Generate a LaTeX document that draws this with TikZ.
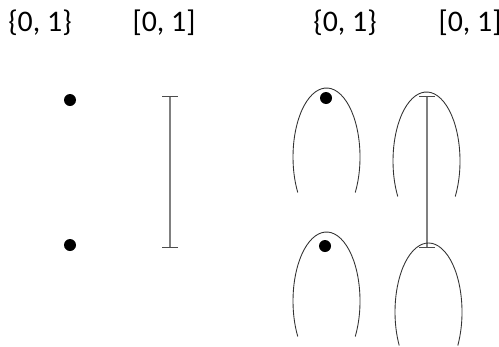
\documentclass[tikz,border=0pt]{standalone}
\usepackage{xcolor}
\usepackage{fontspec}
\setsansfont{Carlito}
\usepackage{tikz}
\usetikzlibrary{arrows.meta}

\begin{document}
\begin{tikzpicture}[x=0.02cm,y=0.02cm,
  pt/.style={circle,fill=black,inner sep=0pt,minimum size=0.24cm},
  lbl/.style={font=\sffamily\fontsize{17}{19}\selectfont},
  ival/.style={gray,line width=0.7pt,{Bar[width=0.32cm,black!70]}-{Bar[width=0.32cm,black!70]}},
  hood/.style={line width=0.5pt,black!80}]
\useasboundingbox (0,0) rectangle (499,346);
% labels
\node[lbl] (setA) at (40,323) {\{0, 1\}};
\node[lbl] (ivA) at (164,323) {[0, 1]};
\node[lbl] (setB) at (345,323) {\{0, 1\}};
\node[lbl] (ivB) at (470,323) {[0, 1]};
% left: two points and the interval
\node[pt] (p1) at (70,246) {};
\node[pt] (p0) at (70,101) {};
\coordinate (a1) at (170,250);
\coordinate (a0) at (170,98);
\draw[ival] (a0) -- (a1);
% right: the same with hoods over them
\node[pt] (q1) at (326,248) {};
\node[pt] (q0) at (325,100) {};
\coordinate (b1) at (427,250);
\coordinate (b0) at (427,98);
\draw[ival] (b0) -- (b1);
\draw[hood] (326.5,189) ++(-31:33.5 and 69) arc[start angle=-31,end angle=211,x radius=33.5,y radius=69];
\draw[hood] (426.5,185) ++(-31:33.5 and 69) arc[start angle=-31,end angle=211,x radius=33.5,y radius=69];
\draw[hood] (326.5,45) ++(-31:33.5 and 69) arc[start angle=-31,end angle=211,x radius=33.5,y radius=69];
\draw[hood] (428.5,34) ++(-29:33.5 and 69) arc[start angle=-29,end angle=209,x radius=33.5,y radius=69];
\end{tikzpicture}
\end{document}
